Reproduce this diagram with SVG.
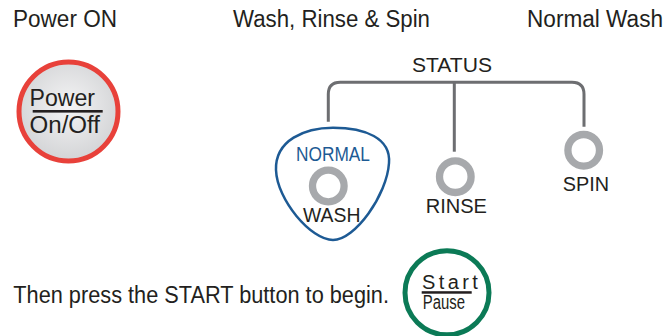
<svg xmlns="http://www.w3.org/2000/svg" width="667" height="336" viewBox="0 0 667 336">
<defs>
<radialGradient id="pg" cx="50%" cy="45%" r="55%">
<stop offset="0" stop-color="#f4f4f5"/>
<stop offset="1" stop-color="#d3d4d6"/>
</radialGradient>
</defs>
<style>
.hd{font-family:"Liberation Sans",Arial,sans-serif;font-size:23px;fill:#231f20}
.lb{font-family:"Liberation Sans",Arial,sans-serif;font-size:20px;fill:#231f20}
.ring{fill:none;stroke:#a7a9ac;stroke-width:7.3}
.br{fill:none;stroke:#6d6e71;stroke-width:3}
</style>
<rect width="667" height="336" fill="#ffffff"/>
<g id="headers">
<text class="hd" x="13" y="27" textLength="104" lengthAdjust="spacingAndGlyphs">Power ON</text>
<text class="hd" x="233" y="27" textLength="197" lengthAdjust="spacingAndGlyphs">Wash, Rinse &amp; Spin</text>
<text class="hd" x="527" y="27" textLength="136" lengthAdjust="spacingAndGlyphs">Normal Wash</text>
</g>
<g id="power">
<circle cx="68.5" cy="111.5" r="49.5" fill="url(#pg)" stroke="#e8413a" stroke-width="5"/>
<text class="hd" x="29.5" y="105.5" font-size="23.5" textLength="65.5" lengthAdjust="spacingAndGlyphs">Power</text>
<rect x="32.7" y="110" width="70" height="2.6" fill="#231f20"/>
<text class="hd" x="29.5" y="133.3" font-size="23.5" textLength="70.5" lengthAdjust="spacingAndGlyphs">On/Off</text>
</g>
<g id="connectors">
<path class="br" d="M328.3 121.7 V94.3 Q328.3 82.3 340.3 82.3 H572 Q584 82.3 584 94.3 V126.7"/>
<path class="br" d="M454.3 82.3 V151.7"/>
</g>
<g id="status">
<text class="lb" x="412" y="71.7" font-size="22" textLength="80" lengthAdjust="spacingAndGlyphs">STATUS</text>
</g>
<g id="wash">
<path d="M276 170 C275 140 305 127.7 333 127.7 C365 127.7 391 138 389 163 C387 195 355 240 333 240 C311 240 277 200 276 170 Z" fill="#ffffff" stroke="#1d5a94" stroke-width="2.5"/>
<text class="lb" x="296" y="160.7" font-size="22.5" style="fill:#1d5a94" textLength="74" lengthAdjust="spacingAndGlyphs">NORMAL</text>
<circle class="ring" cx="328.3" cy="186" r="15.8"/>
<text class="lb" x="303" y="222" textLength="57.5" lengthAdjust="spacingAndGlyphs">WASH</text>
</g>
<g id="rinse">
<circle class="ring" cx="455.3" cy="176.7" r="15.8"/>
<text class="lb" x="425.7" y="213" textLength="61.3" lengthAdjust="spacingAndGlyphs">RINSE</text>
</g>
<g id="spin">
<circle class="ring" cx="583.7" cy="150.3" r="15.8"/>
<text class="lb" x="562.7" y="190.7" textLength="46.3" lengthAdjust="spacingAndGlyphs">SPIN</text>
</g>
<g id="instruction">
<text class="hd" x="13.3" y="303.3" font-size="22" textLength="375.7" lengthAdjust="spacingAndGlyphs">Then press the START button to begin.</text>
</g>
<g id="start">
<circle cx="447" cy="292.8" r="42" fill="#ffffff" stroke="#0b7a56" stroke-width="5"/>
<text class="lb" x="422" y="289" font-size="15.5" letter-spacing="3.4">Start</text>
<rect x="421.7" y="291.2" width="50" height="2.5" fill="#231f20"/>
<text class="lb" x="422.7" y="309.3" font-size="15.5" textLength="42.3" lengthAdjust="spacingAndGlyphs">Pause</text>
</g>
</svg>
